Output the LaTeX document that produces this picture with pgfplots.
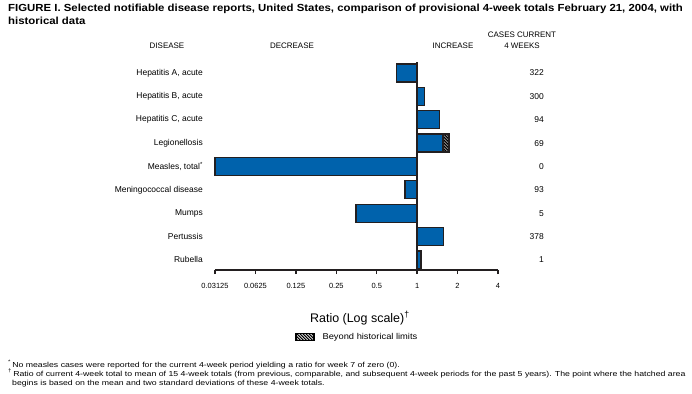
\documentclass[border=0pt]{standalone}
\usepackage{pgfplots}
\pgfplotsset{compat=1.18}
\usetikzlibrary{patterns}
\usepackage{fontspec}
\setmainfont{Liberation Sans}
\newfontfamily\titlefont[FakeStretch=1.11]{Liberation Sans}
\newfontfamily\notefont[FakeStretch=1.2]{Liberation Sans}
\newfontfamily\legfont[FakeStretch=1.1]{Liberation Sans}
\definecolor{barblue}{HTML}{0062AC}
\definecolor{edge}{HTML}{231F20}

\pgfplotstableread{
y ratio
8 0.70
7 1.14
6 1.47
5 1.56
4 0.03125
3 0.81
2 0.35
1 1.57
0 1.07
}\ratios
\pgfplotstableread{
y ratio
5 1.73
}\hatched

\begin{document}
\begin{tikzpicture}
\useasboundingbox (0,0) rectangle (692bp,-394bp);
\node[anchor=base west, inner sep=0pt, font=\titlefont\fontsize{10.3}{12}\selectfont\bfseries] at (8bp,-11.5bp) {FIGURE I. Selected notifiable disease reports, United States, comparison of provisional 4-week totals February 21, 2004, with};
\node[anchor=base west, inner sep=0pt, font=\titlefont\fontsize{10.3}{12}\selectfont\bfseries] at (8bp,-24.5bp) {historical data};
\begin{scope}[every node/.style={inner sep=0pt, font=\fontsize{8}{9}\selectfont}]
\node[anchor=base] at (167bp,-48bp) {DISEASE};
\node[anchor=base] at (292bp,-48bp) {DECREASE};
\node[anchor=base] at (453bp,-48bp) {INCREASE};
\node[anchor=base] at (522bp,-37bp) {CASES CURRENT};
\node[anchor=base] at (522bp,-48bp) {4 WEEKS};
\end{scope}
\begin{axis}[
  at={(215bp,-270bp)}, anchor=south west,
  scale only axis, width=283bp, height=208bp,
  xmode=log, log basis x=2,
  xmin=0.03125, xmax=4, ymin=-0.43, ymax=8.47,
  enlargelimits=false, clip=false,
  axis x line*=bottom, axis y line*=left,
  x axis line style={-, line width=1.5bp, edge},
  y axis line style={draw=none},
  xtick={0.03125,0.0625,0.125,0.25,0.5,1,2,4},
  xticklabels={0.03125,0.0625,0.125,0.25,0.5,1,2,4},
  tick align=outside, major tick length=4bp,
  xtick style={line width=1.5bp, edge},
  ytick style={draw=none},
  /pgf/number format/assume math mode=true,
  xticklabel style={font=\fontsize{7.5}{9}\selectfont, inner sep=0pt, yshift=-9bp},
  ytick={0,...,8},
  yticklabels={{Rubella},{Pertussis},{Mumps},{Meningococcal disease},{Measles, total\textsuperscript{*}},{Legionellosis},{Hepatitis C, acute},{Hepatitis B, acute},{Hepatitis A, acute}},
  yticklabel style={font=\fontsize{8.5}{10}\selectfont, inner sep=0pt, anchor=east, xshift=-8bp},
  xlabel={Ratio (Log scale)\textsuperscript{†}},
  xlabel style={font=\fontsize{12.5}{15}\selectfont, at={(axis description cs:0.512,0)}, anchor=center, yshift=-48bp, inner sep=0pt},
  legend style={at={(axis description cs:0.283,-0.322)}, anchor=west, draw=none, fill=none, font=\legfont\fontsize{8.5}{10}\selectfont, inner sep=0pt},
  legend image code/.code={\fill[black, postaction={pattern=north west lines, pattern color=white}] (0bp,-3.2bp) rectangle (18bp,3.2bp);},
]
\addplot[xbar, bar width=18bp, bar shift=0pt, draw=edge, line width=1.3bp, fill=black, postaction={pattern=north west lines, pattern color=white}] table[x=ratio, y=y] {\hatched};
\addlegendentry{\hspace{6bp}Beyond historical limits}
\addplot[xbar, bar width=18bp, bar shift=0pt, draw=edge, line width=1.3bp, fill=barblue, forget plot] table[x=ratio, y=y] {\ratios};
\addplot[edge, line width=1.5bp, forget plot] coordinates {(1,-0.43) (1,8.47)};
\begin{scope}[every node/.style={anchor=east, inner sep=0pt, font=\fontsize{8.5}{10}\selectfont}]
\node at (axis cs:4,8) [xshift=46bp] {322};
\node at (axis cs:4,7) [xshift=46bp] {300};
\node at (axis cs:4,6) [xshift=46bp] {94};
\node at (axis cs:4,5) [xshift=46bp] {69};
\node at (axis cs:4,4) [xshift=46bp] {0};
\node at (axis cs:4,3) [xshift=46bp] {93};
\node at (axis cs:4,2) [xshift=46bp] {5};
\node at (axis cs:4,1) [xshift=46bp] {378};
\node at (axis cs:4,0) [xshift=46bp] {1};
\end{scope}
\end{axis}
\begin{scope}[every node/.style={anchor=base west, inner sep=0pt, font=\notefont\fontsize{7.3}{8}\selectfont}]
\node at (8bp,-367bp) {\textsuperscript{*}\,No measles cases were reported for the current 4-week period yielding a ratio for week 7 of zero (0).};
\node at (8bp,-376bp) {\textsuperscript{†}\,Ratio of current 4-week total to mean of 15 4-week totals (from previous, comparable, and subsequent 4-week periods for the past 5 years). The point where the hatched area};
\node at (12bp,-385bp) {begins is based on the mean and two standard deviations of these 4-week totals.};
\end{scope}
\end{tikzpicture}
\end{document}
